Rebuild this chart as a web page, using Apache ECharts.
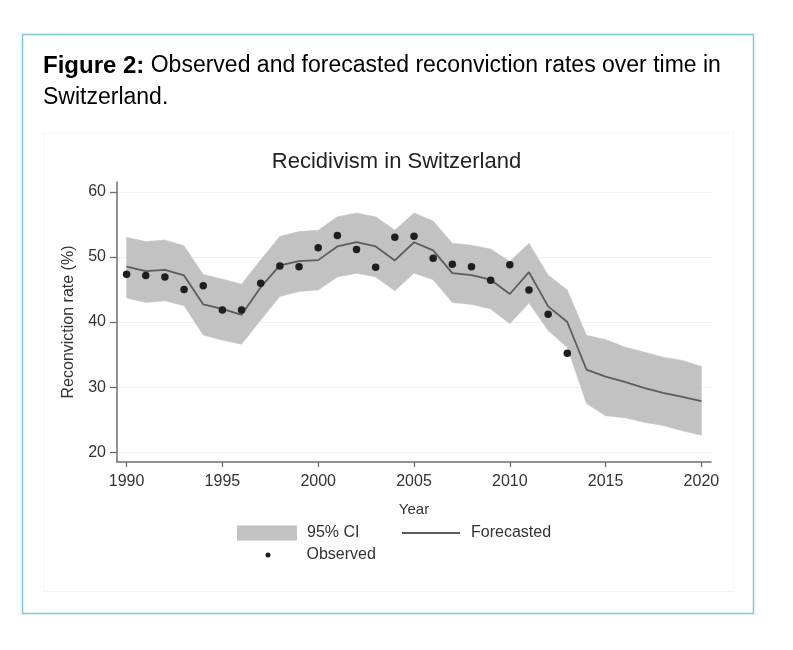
<!DOCTYPE html>
<html>
<head>
<meta charset="utf-8">
<script src="https://cdn.jsdelivr.net/npm/echarts@6/dist/echarts.min.js"></script>
<style>
html,body{margin:0;padding:0;background:#fff;}
#chart{width:793px;height:650px;}
</style>
</head>
<body>
<div id="chart"></div>
<script>
// ---- data ----
const years = [1990,1991,1992,1993,1994,1995,1996,1997,1998,1999,2000,2001,2002,2003,2004,2005,2006,2007,2008,2009,2010,2011,2012,2013,2014,2015,2016,2017,2018,2019,2020];
const forecast = [48.5,47.8,48.0,47.15,42.7,42.0,41.1,45.35,48.7,49.35,49.5,51.6,52.25,51.6,49.45,52.25,51.0,47.5,47.2,46.5,44.3,47.65,42.4,40.0,32.7,31.6,30.8,29.9,29.1,28.5,27.85];
const ciUpper = [53.0,52.35,52.6,51.7,47.3,46.6,45.8,49.55,53.15,53.9,54.1,56.15,56.75,56.15,54.1,56.75,55.5,52.1,51.8,51.2,49.3,52.1,47.2,44.9,37.95,37.3,36.15,35.4,34.6,34.1,33.2];
const ciLower = [43.7,43.0,43.25,42.5,38.0,37.2,36.6,40.3,43.9,44.7,44.9,46.9,47.5,46.9,44.8,47.5,46.5,43.0,42.7,42.0,39.75,42.9,38.7,36.1,27.5,25.6,25.3,24.6,24.1,23.3,22.6];
const observedYears = [1990,1991,1992,1993,1994,1995,1996,1997,1998,1999,2000,2001,2002,2003,2004,2005,2006,2007,2008,2009,2010,2011,2012,2013];
const observed = [47.35,47.15,46.9,45.0,45.55,41.85,41.85,45.95,48.6,48.5,51.4,53.3,51.15,48.4,53.0,53.15,49.8,48.85,48.5,46.4,48.8,44.9,41.2,35.2];
const xTicks = [1990,1995,2000,2005,2010,2015,2020];
const yTicks = [20,30,40,50,60];

const FONT = '"Liberation Sans", Arial, sans-serif';
const chart = echarts.init(document.getElementById('chart'), null, {renderer:'canvas'});

const option = {
  animation: false,
  backgroundColor: '#fff',
  textStyle: {fontFamily: FONT},
  title: [
    {
      text: '{b|Figure 2:} Observed and forecasted reconviction rates over time in\nSwitzerland.',
      left: 43, top: 50, padding: 0,
      textStyle: {
        fontFamily: FONT, fontSize: 23, fontWeight: 'normal', color: '#000', lineHeight: 32,
        rich: {b: {fontFamily: FONT, fontSize: 24, fontWeight: 'bold', color: '#000', lineHeight: 32}}
      }
    },
    {
      text: 'Recidivism in Switzerland',
      left: 'center', top: 151, padding: 0,
      textStyle: {fontFamily: FONT, fontSize: 22, fontWeight: 'normal', color: '#222'}
    }
  ],
  graphic: [
    {type:'rect', shape:{x:22.5, y:34.5, width:731, height:579}, style:{fill:'none', stroke:'#7cc6d9', lineWidth:1.5}, silent:true},
    {type:'rect', shape:{x:43.5, y:132.5, width:690, height:459}, style:{fill:'none', stroke:'#f5f5f5', lineWidth:1}, silent:true}
  ],
  legend: [
    {data:[{name:'95% CI', icon:'rect'}], left:237, top:525, padding:0, itemWidth:60, itemHeight:15, selectedMode:false,
     textStyle:{fontFamily:FONT, fontSize:16, color:'#333', padding:[0,0,0,5]}},
    {data:[{name:'Forecasted', icon:'path://M0,0H60V2H0Z'}], left:402, top:525, padding:0, itemWidth:58, itemHeight:15, selectedMode:false,
     textStyle:{fontFamily:FONT, fontSize:16, color:'#333', padding:[0,0,0,6]}},
    {data:[{name:'Observed', icon:'circle'}], left:265.5, top:547, padding:0, itemWidth:5, itemHeight:5, selectedMode:false,
     textStyle:{fontFamily:FONT, fontSize:16, color:'#333', padding:[0,0,0,31]}}
  ],
  grid: {left:117, right:82, top:182, bottom:188, containLabel:false, outerBoundsMode:'none'},
  xAxis: {
    type:'value', min:1989.5, max:2020.5,
    name:'Year', nameLocation:'middle', nameGap:40,
    nameTextStyle:{fontFamily:FONT, fontSize:15, color:'#333'},
    axisLine:{show:true, lineStyle:{color:'#6e6e6e', width:1.5}},
    axisTick:{show:true, length:5, customValues:xTicks, lineStyle:{color:'#6e6e6e', width:1.3}},
    axisLabel:{customValues:xTicks, margin:12, fontFamily:FONT, fontSize:16, color:'#333', formatter: v => String(v)},
    splitLine:{show:false}
  },
  yAxis: {
    type:'value', min:18.5, max:61.5,
    name:'Reconviction rate (%)', nameLocation:'middle', nameGap:40, nameRotate:90,
    nameTextStyle:{fontFamily:FONT, fontSize:16, color:'#333'},
    axisLine:{show:true, lineStyle:{color:'#6e6e6e', width:1.5}},
    axisTick:{show:true, length:7, customValues:yTicks, lineStyle:{color:'#6e6e6e', width:1.3}},
    axisLabel:{customValues:yTicks, margin:11, fontFamily:FONT, fontSize:16, color:'#333'},
    splitLine:{show:false}
  },
  series: [
    {
      name:'grid', type:'line', data:[], z:0, silent:true,
      markLine:{silent:true, z:0, symbol:['none','none'], label:{show:false},
        lineStyle:{color:'#edf3f3', type:'solid', width:1},
        data: yTicks.map(v => ({yAxis:v}))}
    },
    {
      name:'95% CI', type:'custom', z:1, silent:true,
      itemStyle:{color:'#c2c2c2'},
      data: years.map((y,i) => [y, ciLower[i], ciUpper[i]]),
      encode:{x:0, y:[1,2]},
      renderItem: function(params, api) {
        if (params.dataIndex !== 0) return null;
        const pts = [];
        for (let i = 0; i < years.length; i++) pts.push(api.coord([years[i], ciUpper[i]]));
        for (let i = years.length - 1; i >= 0; i--) pts.push(api.coord([years[i], ciLower[i]]));
        return {type:'polygon', shape:{points:pts}, style:{fill:'#c2c2c2', stroke:'#c2c2c2', lineWidth:0.5}};
      }
    },
    {
      name:'Forecasted', type:'line', z:2, symbol:'none', color:'#5c5c5c',
      itemStyle:{color:'#5c5c5c'},
      lineStyle:{color:'#5c5c5c', width:1.8},
      data: years.map((y,i) => [y, forecast[i]])
    },
    {
      name:'Observed', type:'scatter', z:3, symbolSize:7.5, color:'#1e1e1e',
      itemStyle:{color:'#1e1e1e', opacity:1},
      data: observedYears.map((y,i) => [y, observed[i]])
    }
  ]
};
chart.setOption(option);
</script>
</body>
</html>
